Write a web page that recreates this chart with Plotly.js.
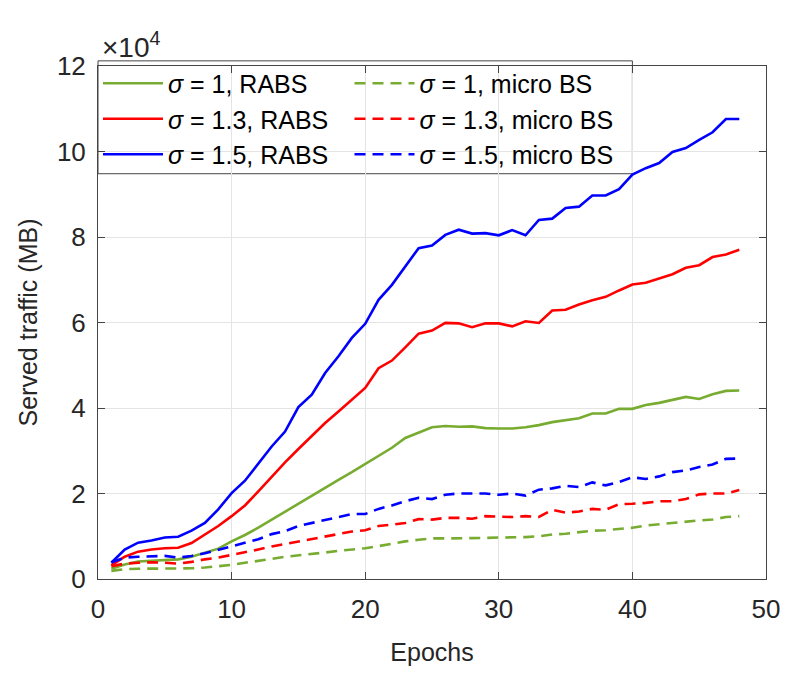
<!DOCTYPE html>
<html>
<head>
<meta charset="utf-8">
<script src="https://cdn.plot.ly/plotly-3.0.1.min.js"></script>
<style>
html,body{margin:0;padding:0;background:#fff;}
#chart{width:789px;height:680px;}
</style>
</head>
<body>
<div id="chart"></div>
<script>
// Epochs 1..48, served traffic in units of 10^4 MB
const epochs = [1,2,3,4,5,6,7,8,9,10,11,12,13,14,15,16,17,18,19,20,21,22,23,24,25,26,27,28,29,30,31,32,33,34,35,36,37,38,39,40,41,42,43,44,45,46,47,48];

const rabs_s1 = [0.24,0.34,0.41,0.43,0.45,0.46,0.52,0.61,0.71,0.88,1.03,1.20,1.39,1.57,1.76,1.95,2.13,2.32,2.50,2.69,2.87,3.07,3.30,3.42,3.55,3.58,3.56,3.57,3.53,3.52,3.52,3.55,3.60,3.67,3.72,3.76,3.87,3.87,3.98,3.98,4.07,4.12,4.19,4.26,4.21,4.32,4.40,4.41];
const rabs_s13 = [0.32,0.52,0.64,0.69,0.72,0.73,0.84,1.03,1.24,1.47,1.72,2.05,2.40,2.73,3.04,3.35,3.65,3.92,4.20,4.47,4.93,5.11,5.42,5.74,5.81,5.99,5.98,5.89,5.98,5.98,5.91,6.03,5.99,6.28,6.30,6.42,6.52,6.60,6.75,6.89,6.93,7.03,7.13,7.28,7.34,7.53,7.59,7.70];
const rabs_s15 = [0.38,0.69,0.85,0.90,0.97,0.99,1.13,1.31,1.63,2.01,2.30,2.71,3.10,3.45,4.02,4.31,4.82,5.21,5.64,5.97,6.53,6.88,7.31,7.74,7.80,8.05,8.17,8.08,8.09,8.04,8.16,8.04,8.40,8.43,8.68,8.71,8.97,8.97,9.12,9.46,9.61,9.73,9.99,10.08,10.27,10.45,10.76,10.76];
const micro_s1 = [0.19,0.23,0.24,0.24,0.24,0.24,0.25,0.27,0.30,0.33,0.38,0.42,0.47,0.52,0.55,0.59,0.62,0.66,0.69,0.72,0.77,0.83,0.88,0.92,0.95,0.95,0.95,0.95,0.96,0.97,0.97,0.98,1.00,1.04,1.06,1.09,1.13,1.14,1.17,1.20,1.25,1.28,1.32,1.34,1.37,1.39,1.45,1.47];
const micro_s13 = [0.30,0.36,0.38,0.39,0.38,0.36,0.40,0.46,0.50,0.56,0.62,0.69,0.76,0.82,0.87,0.94,1.00,1.06,1.11,1.14,1.24,1.27,1.31,1.40,1.39,1.43,1.43,1.41,1.47,1.46,1.45,1.47,1.45,1.62,1.55,1.58,1.64,1.62,1.75,1.76,1.78,1.82,1.82,1.87,1.98,2.00,2.00,2.08];
const micro_s15 = [0.39,0.50,0.52,0.53,0.54,0.50,0.54,0.60,0.68,0.77,0.84,0.93,1.05,1.12,1.24,1.31,1.38,1.46,1.52,1.52,1.64,1.72,1.82,1.90,1.87,1.97,2.00,2.00,2.00,1.97,2.00,1.95,2.09,2.12,2.18,2.15,2.26,2.19,2.27,2.38,2.34,2.40,2.50,2.54,2.62,2.68,2.81,2.82];

const names = {
  r1: '<i>σ</i> = 1, RABS',
  r13: '<i>σ</i> = 1.3, RABS',
  r15: '<i>σ</i> = 1.5, RABS',
  m1: '<i>σ</i> = 1, micro BS',
  m13: '<i>σ</i> = 1.3, micro BS',
  m15: '<i>σ</i> = 1.5, micro BS'
};
const cGreen = '#77AC30', cRed = '#FF0000', cBlue = '#0000FF';
const LW = 2.6;
const DASH = '11px,7px';

function tr(y, name, color, dash, legend) {
  return {x: epochs, y: y, name: name, type: 'scatter', mode: 'lines',
    line: {color: color, width: LW, dash: dash}, legend: legend};
}

const data = [
  tr(rabs_s1, names.r1, cGreen, 'solid', 'legend'),
  tr(rabs_s13, names.r13, cRed, 'solid', 'legend'),
  tr(rabs_s15, names.r15, cBlue, 'solid', 'legend'),
  tr(micro_s1, names.m1, cGreen, DASH, 'legend2'),
  tr(micro_s13, names.m13, cRed, DASH, 'legend2'),
  tr(micro_s15, names.m15, cBlue, DASH, 'legend2')
];

const FONT = 'Liberation Sans, Arial, sans-serif';
const TXT = '#262626';

const axisCommon = {
  showline: true, mirror: 'ticks', linecolor: '#444', linewidth: 1,
  ticks: 'inside', ticklen: 7, tickcolor: '#444', tickwidth: 1,
  showgrid: true, gridcolor: '#e4e4e4', gridwidth: 1, zeroline: false,
  tickfont: {family: FONT, size: 26, color: TXT}
};

const legendCommon = {
  xanchor: 'left', y: 1.0107, yanchor: 'top',
  bgcolor: 'rgba(0,0,0,0)', borderwidth: 0,
  itemwidth: 60, tracegroupgap: 0,
  font: {family: FONT, size: 25, color: '#000'}
};

const layout = {
  width: 789, height: 680,
  margin: {l: 97.6, r: 22.5, t: 66, b: 100.5},
  paper_bgcolor: '#fff', plot_bgcolor: '#fff',
  font: {family: FONT, color: TXT},
  xaxis: Object.assign({}, axisCommon, {
    range: [0, 50], tick0: 0, dtick: 10, autorange: false,
    ticklabelstandoff: 7,
    title: {text: 'Epochs', font: {family: FONT, size: 25, color: TXT}, standoff: 20}
  }),
  yaxis: Object.assign({}, axisCommon, {
    range: [0, 12], tick0: 0, dtick: 2, autorange: false,
    ticklabelstandoff: 6,
    title: {text: 'Served traffic (MB)', font: {family: FONT, size: 25, color: TXT}, standoff: 12}
  }),
  showlegend: true,
  legend: Object.assign({}, legendCommon, {x: 0.0}),
  legend2: Object.assign({}, legendCommon, {x: 0.3765}),
  shapes: [{
    type: 'rect', xref: 'paper', yref: 'paper',
    x0: 0, x1: 0.8, y0: 0.79, y1: 1.01,
    line: {color: '#444', width: 1}, fillcolor: '#fff', layer: 'below'
  }],
  annotations: [{
    xref: 'paper', yref: 'paper', x: 0.003, y: 1.0, xanchor: 'left', yanchor: 'bottom',
    yshift: 1, showarrow: false,
    text: '×10<sup>4</sup>', font: {family: FONT, size: 28, color: TXT}
  }]
};

Plotly.newPlot('chart', data, layout, {displayModeBar: false, staticPlot: true});
</script>
</body>
</html>
